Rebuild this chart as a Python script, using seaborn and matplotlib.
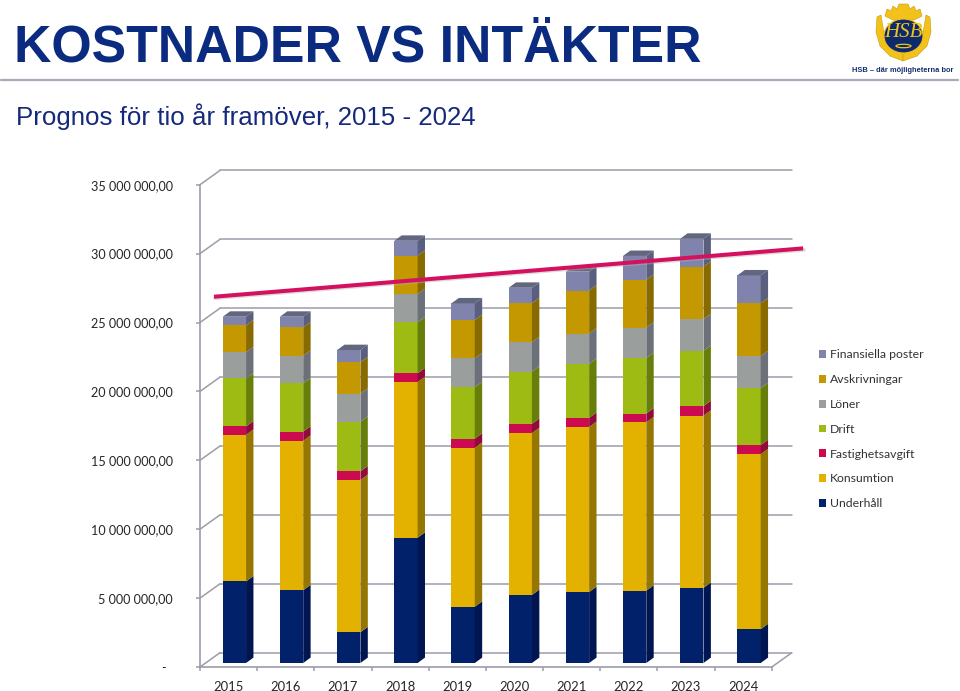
import matplotlib
matplotlib.use("Agg")
import matplotlib.pyplot as plt
import numpy as np
import pandas as pd
import seaborn as sns
from matplotlib.lines import Line2D
from matplotlib.patches import Ellipse, Polygon, Rectangle
from matplotlib.transforms import Affine2D

# values in million SEK
years = ["2015", "2016", "2017", "2018", "2019", "2020", "2021", "2022", "2023", "2024"]
underhall = [5.92, 5.28, 2.23, 9.09, 4.08, 4.94, 5.15, 5.25, 5.45, 2.45]
konsumtion = [10.64, 10.85, 11.05, 11.30, 11.54, 11.74, 11.98, 12.22, 12.50, 12.70]
fastighetsavgift = [0.61, 0.66, 0.63, 0.63, 0.66, 0.68, 0.66, 0.63, 0.69, 0.66]
drift = [3.48, 3.51, 3.60, 3.70, 3.73, 3.79, 3.92, 4.04, 4.01, 4.13]
loner = [1.91, 2.00, 2.03, 2.05, 2.10, 2.13, 2.20, 2.20, 2.30, 2.34]
avskrivningar = [1.94, 2.06, 2.28, 2.78, 2.78, 2.83, 3.12, 3.48, 3.81, 3.82]
finansiella = [0.63, 0.77, 0.89, 1.09, 1.21, 1.12, 1.37, 1.72, 2.03, 2.03]

# revenue trend line: ends of the drawn line
trend_x = [-0.357, 9.946]
trend_y = [26.87, 30.38]

names = ["Underhåll", "Konsumtion", "Fastighetsavgift", "Drift", "Löner", "Avskrivningar", "Finansiella poster"]
series = [underhall, konsumtion, fastighetsavgift, drift, loner, avskrivningar, finansiella]
front_colors = ["#01216b", "#e3b200", "#cc0a50", "#9dbb12", "#9a9e9c", "#c49800", "#8084ac"]
side_colors = ["#011650", "#947600", "#900a3a", "#677f0a", "#6c7078", "#876a00", "#5b5f7e"]
top_color = "#62667f"

ytick_values = [0, 5, 10, 15, 20, 25, 30, 35]
ytick_labels = ["-  "] + [f"{v} 000 000,00" for v in ytick_values[1:]]

PX_X = 57.18
PX_Y = 13.78
BAR_W = 23.3 / PX_X
DEPTH_X, DEPTH_Y = 7.4 / PX_X, 5.4 / PX_Y
WALL_X, WALL_Y = 20.0 / PX_X, 14.3 / PX_Y
GRID = "#9c9cab"

sns.set_theme(style="white")
plt.rcParams["font.family"] = ["Lato", "DejaVu Sans"]

fig = plt.figure(figsize=(9.6, 6.91), dpi=100)
ax = fig.add_axes([200 / 960, (691 - 667) / 691, 592 / 960, 497 / 691])
ax.patch.set_alpha(0)

# stacked front faces: tallest layer first, the lower ones paint over it
cum = np.cumsum(np.array(series), axis=0)
long_df = pd.DataFrame(cum.T, columns=names, index=years).reset_index(names="year")
long_df = long_df.melt(id_vars="year", var_name="post", value_name="top")

shift = Affine2D().translate(0, 4)  # bars stand 4 px behind the front edge
for name, col in list(zip(names, front_colors))[::-1]:
    sns.barplot(data=long_df[long_df["post"] == name], x="year", y="top", color=col,
                saturation=1, errorbar=None, width=BAR_W, linewidth=0, ax=ax, zorder=3)
    for bar in ax.containers[-1]:
        bar.set_transform(ax.transData + shift)

# side and top faces
for i in range(len(years)):
    right = i + BAR_W / 2
    lows = np.r_[0, cum[:-1, i]]
    for lo, hi, col in zip(lows, cum[:, i], side_colors):
        ax.add_patch(Polygon([(right, lo), (right + DEPTH_X, lo + DEPTH_Y),
                              (right + DEPTH_X, hi + DEPTH_Y), (right, hi)],
                             closed=True, fc=col, ec="none", zorder=3,
                             transform=ax.transData + shift))
    top = cum[-1, i]
    ax.add_patch(Polygon([(right - BAR_W, top), (right - BAR_W + DEPTH_X, top + DEPTH_Y),
                          (right + DEPTH_X, top + DEPTH_Y), (right, top)],
                         closed=True, fc=top_color, ec="none", zorder=3,
                         transform=ax.transData + shift))

x_left = -34.4 / PX_X
x_front_end = x_left + 10
ax.set_xlim(x_left, x_left + 592 / PX_X)
ax.set_ylim(0, 497 / PX_Y)

# back wall gridlines and the slanted bits on the side wall
for v in ytick_values:
    ax.plot([x_left, x_left + WALL_X], [v, v + WALL_Y], color=GRID, lw=1.1, zorder=1, clip_on=False)
    ax.plot([x_left + WALL_X, x_front_end + WALL_X], [v + WALL_Y, v + WALL_Y], color=GRID, lw=1.1,
            zorder=1, clip_on=False)
ax.plot([x_front_end, x_front_end + WALL_X], [0, WALL_Y], color=GRID, lw=1.1, zorder=1)

sns.despine(ax=ax, top=True, right=True)
ax.spines["left"].set_color(GRID)
ax.spines["bottom"].set_color(GRID)
ax.spines["left"].set_linewidth(1.2)
ax.spines["bottom"].set_linewidth(1.2)
ax.spines["left"].set_bounds(0, 35)
ax.spines["bottom"].set_bounds(x_left, x_front_end)

ax.set_yticks(ytick_values, labels=ytick_labels)
ax.set_xticks([i + x_left + 0.5 for i in range(len(years))], labels=years)
ax.set_xticks([x_left + i for i in range(len(years) + 1)], minor=True)
ax.tick_params(axis="y", left=True, length=3, width=1.1, color=GRID, pad=16.5,
               labelsize=9.1, labelcolor="#262626")
ax.tick_params(axis="x", which="major", bottom=False, length=0, pad=10,
               labelsize=9.4, labelcolor="#262626")
ax.tick_params(axis="x", which="minor", bottom=True, length=3, width=1.1, color=GRID)
ax.set_xlabel("")
ax.set_ylabel("")

# trend line with a faint shadow
ax.plot(trend_x, trend_y, color="#b0b0b0", lw=2.6, alpha=0.45, zorder=4, clip_on=False,
        transform=ax.transData + Affine2D().translate(1, -1.5))
ax.plot(trend_x, trend_y, color="#d5115f", lw=2.9, zorder=5, clip_on=False, solid_capstyle="butt")

# legend
handles = [Rectangle((0, 0), 1, 1, fc=c, ec="none") for c in front_colors[::-1]]
ax.legend(handles, names[::-1], loc="upper left", bbox_to_anchor=(819 / 960, (691 - 349.3) / 691),
          bbox_transform=fig.transFigure, frameon=False, fontsize=8.85, labelcolor="#333333",
          handlelength=0.6, handleheight=0.6, handletextpad=0.3, labelspacing=1.125,
          borderpad=0, borderaxespad=0)

# heading
fig.text(14 / 960, (691 - 61) / 691, "KOSTNADER VS INTÄKTER", family="Liberation Sans", weight="bold",
         fontsize=37.3, color="#0a2b80", va="baseline")
fig.text(16 / 960, (691 - 125) / 691, "Prognos för tio år framöver, 2015 - 2024", family="Liberation Sans",
         fontsize=18.6, color="#14297c", va="baseline")
fig.add_artist(Line2D([1 / 960, 958 / 960], [(691 - 79.5) / 691] * 2, color="#a9a9b8", lw=1.6))
fig.text(852 / 960, (691 - 71) / 691, "HSB – där möjligheterna bor", family="Liberation Sans", weight="bold",
         fontsize=5.45, color="#12306f", va="center")

# logo in pixel coordinates
logo = fig.add_axes([0, 0, 1, 1], zorder=6)
logo.set_xlim(0, 960)
logo.set_ylim(691, 0)
logo.axis("off")
gold = "#f2c21a"
edge = "#c79a10"
# crown
logo.add_patch(Polygon([(885, 16), (887, 9), (891, 11), (893, 6), (897, 9), (899, 4), (908, 4), (910, 9),
                        (914, 6), (916, 11), (920, 9), (922, 16), (914, 20), (893, 20)], fc=gold, ec=edge, lw=0.4))
# wreath, one leaf bundle each side, meeting under the circle
logo.add_patch(Polygon([(881, 15), (877, 17), (876, 32), (880, 46), (890, 56), (903, 61), (903, 54), (892, 49),
                        (885, 40), (883, 27)], fc=gold, ec=edge, lw=0.4))
logo.add_patch(Polygon([(926, 15), (930, 17), (931, 32), (927, 46), (917, 56), (903, 61), (903, 54), (915, 49),
                        (922, 40), (924, 27)], fc=gold, ec=edge, lw=0.4))
logo.add_patch(Ellipse((903.5, 36), 39, 34, fc="#0d2a6e", ec=gold, lw=0.8))
logo.text(903.5, 32, "HSB", family="Liberation Serif", style="italic", fontsize=15, color=gold,
          ha="center", va="center")
logo.add_patch(Ellipse((903.5, 46), 15, 3.4, fc="none", ec=gold, lw=0.9))

fig.savefig("out.png", dpi=100)
plt.close(fig)
